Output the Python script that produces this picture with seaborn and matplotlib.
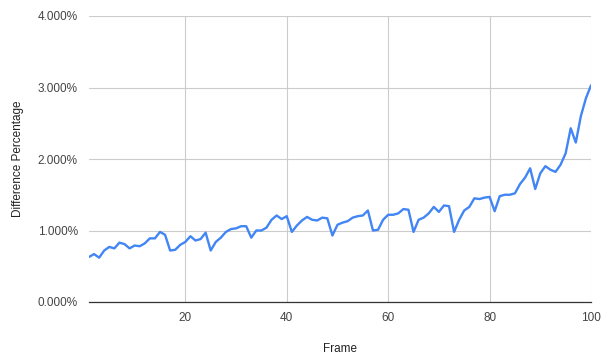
import matplotlib
matplotlib.use("Agg")
import matplotlib.pyplot as plt
import seaborn as sns
import pandas as pd
from matplotlib.ticker import FuncFormatter

frames = list(range(1, 101))
diff_pct = [
    0.63, 0.67, 0.62, 0.72, 0.77, 0.75, 0.83, 0.81, 0.75, 0.79,
    0.78, 0.82, 0.89, 0.89, 0.98, 0.94, 0.72, 0.73, 0.80, 0.84,
    0.92, 0.86, 0.88, 0.97, 0.72, 0.84, 0.90, 0.98, 1.02, 1.03,
    1.06, 1.06, 0.90, 1.00, 1.00, 1.04, 1.15, 1.21, 1.16, 1.20,
    0.98, 1.07, 1.14, 1.19, 1.15, 1.14, 1.18, 1.17, 0.93, 1.08,
    1.11, 1.13, 1.18, 1.20, 1.21, 1.28, 1.00, 1.01, 1.15, 1.22,
    1.22, 1.24, 1.30, 1.29, 0.98, 1.15, 1.18, 1.24, 1.33, 1.26,
    1.35, 1.34, 0.98, 1.15, 1.28, 1.33, 1.45, 1.44, 1.46, 1.47,
    1.27, 1.48, 1.50, 1.50, 1.52, 1.65, 1.74, 1.87, 1.58, 1.80,
    1.90, 1.85, 1.82, 1.92, 2.08, 2.43, 2.23, 2.60, 2.85, 3.03,
]
x_ticks = [20, 40, 60, 80, 100]
y_ticks = [0, 1, 2, 3, 4]

df = pd.DataFrame({"Frame": frames, "Difference Percentage": diff_pct})

sns.set_theme(style="white")
plt.rcParams["font.family"] = ["Liberation Sans", "DejaVu Sans"]

fig = plt.figure(figsize=(6.01, 3.54), dpi=100)
ax = fig.add_axes([89 / 601, 52 / 354, 502 / 601, 286 / 354])

sns.lineplot(data=df, x="Frame", y="Difference Percentage", ax=ax,
             color="#4285F4", linewidth=1.7)

ax.set_xlim(1, 100)
ax.set_ylim(0, 4)
ax.set_xticks(x_ticks)
ax.set_yticks(y_ticks)
ax.yaxis.set_major_formatter(FuncFormatter(lambda v, _: f"{v:.3f}%"))

ax.grid(True, color="#cccccc", linewidth=0.8)
ax.set_axisbelow(True)
for side in ["left", "top", "right"]:
    ax.spines[side].set_visible(False)
ax.spines["bottom"].set_color("#333333")
ax.spines["bottom"].set_linewidth(0.9)
ax.spines["bottom"].set_zorder(1)

ax.tick_params(axis="x", length=0, labelsize=8.5, colors="#444444", pad=7)
ax.tick_params(axis="y", length=0, labelsize=8.5, colors="#444444", pad=8)
ax.set_xlabel("Frame", fontsize=8.5, color="#222222", labelpad=14)
ax.set_ylabel("Difference Percentage", fontsize=8.5, color="#222222", labelpad=10)

fig.savefig("out.png", dpi=100, facecolor="white")
